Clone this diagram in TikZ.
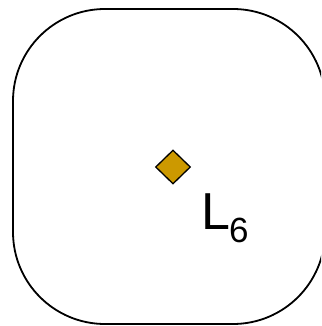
\documentclass[tikz,border=0pt]{standalone}
\usepackage{fontspec}
\setmainfont{Liberation Sans}
\usetikzlibrary{shapes.geometric}
\definecolor{gold}{RGB}{204,153,0}
\tikzset{
  frame/.style={draw=black, line width=1.8pt, rounded corners=92pt},
  marker/.style={diamond, draw=black, line width=1.3pt, fill=gold, minimum width=35pt, minimum height=34pt, inner sep=0pt},
  lbl/.style={anchor=base west, inner sep=0pt, font=\fontsize{52}{52}\selectfont}
}
\begin{document}
\begin{tikzpicture}[x=1pt,y=-1pt]
\useasboundingbox (0,0) rectangle (321,326);
\clip (0,0) rectangle (321,326);
\draw[frame] (13,9) rectangle (325,324);
\node[marker] (diam) at (173,167) {};
\node[lbl] (lab) at (201,229) {L\kern-1pt\raisebox{-13pt}{\fontsize{35}{35}\selectfont 6}};
\end{tikzpicture}
\end{document}
